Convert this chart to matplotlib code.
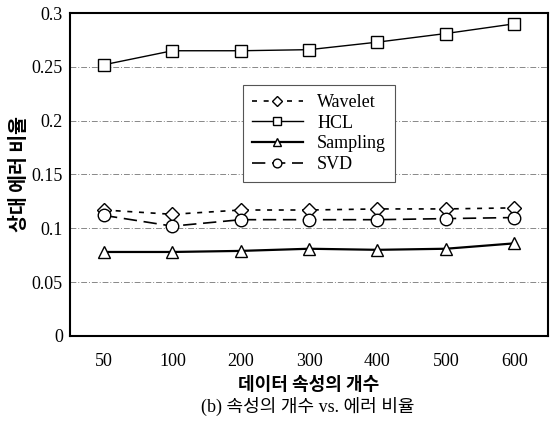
import matplotlib
matplotlib.use("Agg")
import matplotlib.pyplot as plt

plt.rcParams['font.family'] = ['Liberation Serif', 'Noto Sans CJK KR']

categories = ['50', '100', '200', '300', '400', '500', '600']
wavelet = [0.117, 0.113, 0.117, 0.117, 0.118, 0.118, 0.119]
hcl = [0.252, 0.265, 0.265, 0.266, 0.273, 0.281, 0.290]
sampling = [0.078, 0.078, 0.079, 0.081, 0.080, 0.081, 0.086]
svd = [0.112, 0.102, 0.108, 0.108, 0.108, 0.109, 0.110]

kfont = ['Noto Sans CJK KR', 'DejaVu Sans']
capfont = ['Liberation Serif', 'Noto Sans CJK KR']

fig = plt.figure(figsize=(5.5, 4.22), dpi=100)
ax = fig.add_axes([0.127, 0.204, 0.870, 0.765])
x = range(len(categories))

mk = dict(color='black', markerfacecolor='white', markeredgecolor='black', markersize=9, lw=1.2)
ax.plot(x, wavelet, linestyle=(0, (3, 4)), marker='D', label='Wavelet', **{**mk, 'markersize': 7})
ax.plot(x, hcl, linestyle='-', marker='s', label='HCL', **{**mk, 'lw': 1.0})
ax.plot(x, sampling, linestyle='-', marker='^', label='Sampling', **{**mk, 'lw': 1.6})
ax.plot(x, svd, linestyle=(0, (8, 4)), marker='o', label='SVD', **mk)

ax.set_xlim(-0.5, 6.5)
ax.set_ylim(0, 0.3)
ax.set_xticks(list(x))
ax.set_xticklabels(categories)
ax.set_yticks([0, 0.05, 0.1, 0.15, 0.2, 0.25, 0.3])
ax.set_yticklabels(['0', '0.05', '0.1', '0.15', '0.2', '0.25', '0.3'])
ax.tick_params(axis='x', length=0, labelsize=13, pad=12)
ax.tick_params(axis='y', length=0, labelsize=13, pad=5)
ax.yaxis.grid(True, color='#888888', linestyle=(0, (6, 2, 1, 2)), lw=0.7)
ax.set_axisbelow(True)
for s in ax.spines.values():
    s.set_linewidth(1.5)

ax.set_ylabel('상대 에러 비율', family=kfont, fontsize=14, fontweight='bold', labelpad=2)
ax.set_xlabel('데이터 속성의 개수', family=kfont, fontsize=13, fontweight='bold', labelpad=4)
fig.text(0.56, 0.015, '(b) 속성의 개수 vs. 에러 비율', family=capfont, fontsize=13, ha='center', va='bottom')

leg = ax.legend(loc='upper left', bbox_to_anchor=(0.362, 0.777), borderaxespad=0, fontsize=13, fancybox=False,
                edgecolor='#555555', handlelength=2.8, borderpad=0.5, labelspacing=0.2, framealpha=1,
                markerscale=0.7)
leg.get_frame().set_linewidth(0.8)

fig.savefig('out.png', dpi=100)
